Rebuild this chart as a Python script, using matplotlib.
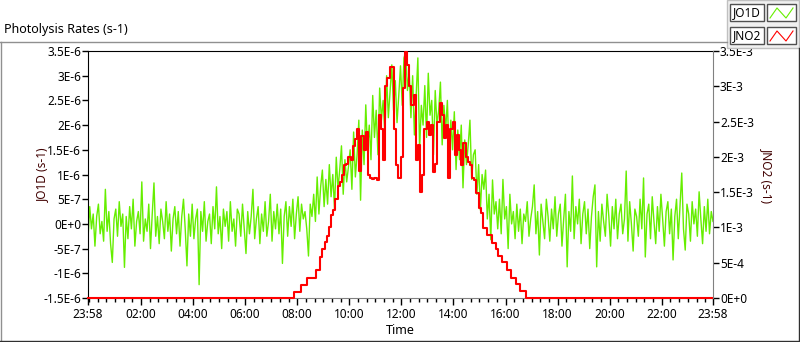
import numpy as np
import matplotlib.pyplot as plt
from matplotlib.patches import Rectangle
from matplotlib.lines import Line2D

plt.rcParams['font.family'] = ['Noto Sans', 'DejaVu Sans']

# JO1D, 4-minute samples from 23:58, in 1e-8 s-1
jo1d_night1 = [
    -30, 35, -10, 20, -45, 15, 40, -20, 5, -35,
    70, -15, 25, -40, -78, 10, 30, -25, 45, -5,
    20, -88, 15, -30, 35, -10, 50, -45, 5, 25,
    -20, 85, -35, 10, -15, 40, -50, 20, 83, -25,
    15, -40, 30, 5, -30, 45, -15, 20, -55, 10,
    35, -20, 25, -45, 15, 50, -10, -85, 20, -25,
    40, -30, 10, 30, -123, 25, -15, 45, -35, 5,
    20, -40, 35, -10, 75, -20, 15, -50, 30, -5,
    25, -35, 45, -15, 10, -45, 30, 20, -25, 40,
    -10, -60, 25, -20, 15, 70, -30, 10, 35, -40,
    20, -15, 45, -25, 5, 60, -35, 25, -10, 40,
    -20, 30, -80, 15, 45, -25, 35, -5, 50, -30,
    20, 55, -15, 40, 10,
]
jo1d_day = [
    25, -10, -65, 40, 15,
    60, 5, 95, 20, 75, 109, 35,
    90, 40, 120, 55, 100, 30, 135, 70, 110, 158,
    60, 130, 85, 115,
    150, 70, 186, 95, 140,
    210, 48, 190, 120, 241, 150, 200, 130,
    260, 175, 230, 140, 275, 210, 250, 180,
    300, 215, 270, 322, 230, 290, 205, 260,
    320, 240, 336, 348, 270, 310, 215,
    300, 180, 260, 336, 150, 240, 200, 280,
    175, 305, 220, 250, 140, 270, 200, 230,
    287, 160, 240, 190, 250, 134, 210,
    150, 227, 110, 190, 130, 200, 73, 170, 120, 160,
    210, 90, 140,
    150, 60, 120, 28, 100, 70,
    109, 10, 60, -32, 89, 20, 45, -10,
    50, -20, 90, 10, 35, -50, 60, 0, 25, -30, 40,
]
jo1d_night2 = [
    -15, 30, -40, 20, 5, 45, -25, 10, 35, 79,
    -20, 25, -63, 40, 5, -30, 50, 15, -35, 30,
    -10, 55, -25, 20, 40, -45, 10, 60, -87, 25,
    -15, 97, -30, 35, 0, 50, -40, 20, 45, -20,
    30, -50, 15, 55, 79, -87, 25, -35, 40, 5,
    -25, 60, 15, -45, 35, -10, 50, -30, 20, 40,
    -20, 10, 107, -35, 45, 0, -55, 30, 15, -25,
    50, -10, 93, -67, 20, 40, -30, 55, 5, -40,
    35, -15, 60, 10, -45, 25, 45, -20, 30, -73,
    15, 50, -30, 35, 103, -10, -53, 40, 20, -35,
    45, 0, 30, -25, 65, 10, -40, 35, -15, 50,
    -20, 25, 5,
]

# JNO2, 5-minute samples from 23:58, in 1e-5 s-1
jno2_night1 = [0] * 95
jno2_day = [
    9, 9, 9, 19, 19, 19, 29, 29, 29, 29,
    40, 40, 58, 69, 80, 88, 100, 118, 125, 140,
    159, 165, 175, 189, 190,
    200, 195, 215, 225, 240, 180, 230, 210, 235, 175,
    170, 168, 170, 167, 260, 240, 195, 300, 312, 327,
    327, 240, 188, 170, 200, 297, 348, 330, 300, 273,
    287, 195, 217, 150, 175, 240, 249, 231, 245, 178,
    190, 249, 277, 260, 227, 245, 170, 240, 249, 203,
    231, 210, 188, 220, 200, 193, 188, 170, 167, 149,
    127, 120, 99, 99, 89, 89, 78, 78, 69, 59,
    59, 51, 51, 40, 40, 29, 29, 20, 20, 10,
    10, 10,
]
jno2_night2 = [0] * 87

left_ticks = ['-1.5E-6', '-1E-6', '-5E-7', '0E+0', '5E-7', '1E-6', '1.5E-6',
              '2E-6', '2.5E-6', '3E-6', '3.5E-6']
right_ticks = ['0E+0', '5E-4', '1E-3', '1.5E-3', '2E-3', '2.5E-3', '3E-3', '3.5E-3']
time_labels = ['23:58', '02:00', '04:00', '06:00', '08:00', '10:00', '12:00',
               '14:00', '16:00', '18:00', '20:00', '22:00', '23:58']

jo1d = np.array(jo1d_night1 + jo1d_day + jo1d_night2) * 1e-8
jno2 = np.array(jno2_night1 + jno2_day + jno2_night2) * 1e-5
t_g = np.arange(len(jo1d)) * 4 / 60
t_r = np.arange(len(jno2)) * 5 / 60

W, H = 800, 342
fig = plt.figure(figsize=(W / 100, H / 100), dpi=100)


def fx(x):
    return x / W


def fy(y):
    return 1 - y / H


ax = fig.add_axes([fx(88), fy(298), fx(625), 247 / H])
ax2 = ax.twinx()

ax.plot(t_g, jo1d, color='#66ee00', lw=1.0)
ax2.plot(t_r, jno2, color='#ff0000', lw=1.5, drawstyle='steps-post', clip_on=False)

ax.set_xlim(0, 24)
ax.set_ylim(-1.5e-6, 3.5e-6)
ax2.set_ylim(0, 3.5e-3)

ax.set_yticks(np.linspace(-1.5e-6, 3.5e-6, len(left_ticks)))
ax.set_yticklabels(left_ticks)
ax2.set_yticks(np.linspace(0, 3.5e-3, len(right_ticks)))
ax2.set_yticklabels(right_ticks)

major = [0] + [2 / 60 + 2 * k for k in range(1, 12)] + [24]
ax.set_xticks(major)
ax.set_xticklabels(time_labels)
ax.set_xticks([2 / 60 + k / 3 for k in range(72)], minor=True)

for a in (ax, ax2):
    a.tick_params(axis='both', which='major', length=4, width=1, labelsize=8.5,
                  pad=1, color='black')
ax.tick_params(axis='x', which='minor', length=3, width=1, color='black')
ax.tick_params(axis='x', which='major', length=5, pad=2)

for s in ('left', 'top'):
    ax.spines[s].set_color('black')
ax.spines['bottom'].set_color('#808080')
ax.spines['right'].set_visible(False)
for s in ('left', 'top', 'bottom'):
    ax2.spines[s].set_visible(False)
ax2.spines['right'].set_color('#808080')

fig.text(fx(4), fy(30), 'Photolysis Rates (s-1)', fontsize=9, va='center')
fig.text(fx(400), fy(330), 'Time', fontsize=9, ha='center', va='center')
fig.text(fx(42), fy(175), 'JO1D (s-1)', fontsize=8.5, rotation=90,
         ha='center', va='center', color='#400000')
fig.text(fx(767), fy(175), 'JNO2 (s-1)', fontsize=8.5, rotation=270,
         ha='center', va='center', color='#400000')

# panel frame
fig.add_artist(Line2D([fx(0), fx(727)], [fy(42), fy(42)], color='#909090', lw=1))
fig.add_artist(Line2D([fx(0.5), fx(0.5)], [fy(42), fy(342)], color='#909090', lw=1))
fig.add_artist(Line2D([fx(0), fx(799)], [fy(341), fy(341)], color='#303030', lw=1))
fig.add_artist(Line2D([fx(799), fx(799)], [fy(48), fy(341)], color='#303030', lw=1))

# legend panel
fig.add_artist(Rectangle((fx(727), fy(48)), fx(72), 48 / H, facecolor='#f0f0f0',
                         edgecolor='#c0c0c0', lw=1))
names = ['JO1D', 'JNO2']
colors = ['#66ee00', '#ff0000']
for k in range(2):
    y0 = 4 + 23 * k
    fig.add_artist(Rectangle((fx(730), fy(y0 + 17)), fx(34), 17 / H,
                             facecolor='white', edgecolor='#505050', lw=1))
    fig.text(fx(747), fy(y0 + 8.5), names[k], fontsize=8.5, ha='center',
             va='center')
    fig.add_artist(Rectangle((fx(767), fy(y0 + 17)), fx(29), 17 / H,
                             facecolor='white', edgecolor='#505050', lw=1))
    fig.add_artist(Line2D([fx(770), fx(777), fx(786), fx(793)],
                          [fy(y0 + 14), fy(y0 + 4), fy(y0 + 14), fy(y0 + 4)],
                          color=colors[k], lw=0.8))

fig.savefig('out.png', dpi=100)
